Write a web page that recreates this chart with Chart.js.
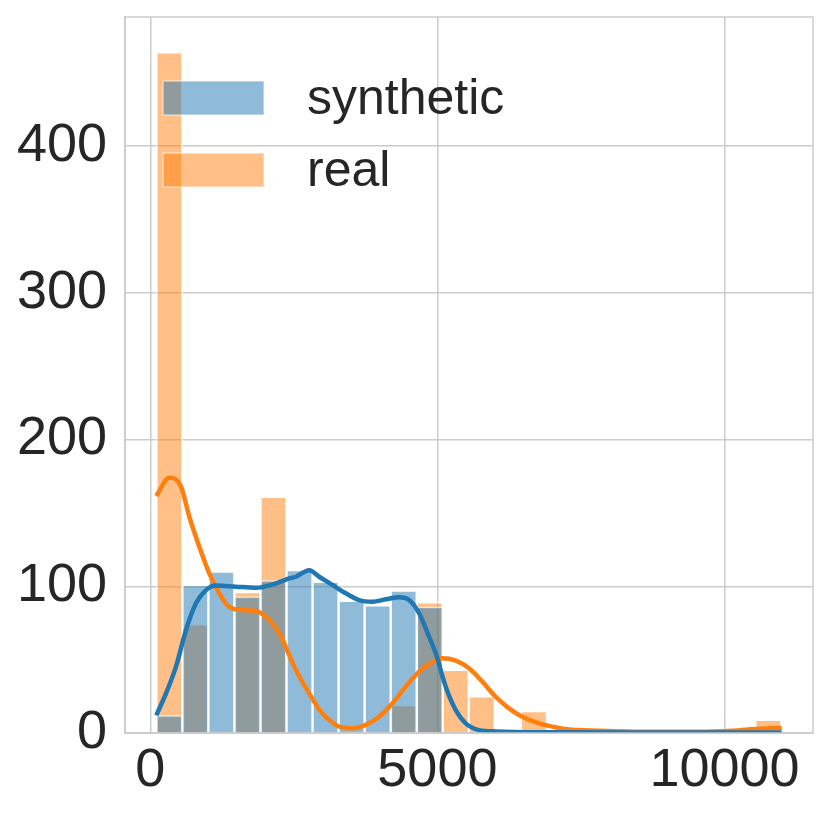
<!DOCTYPE html>
<html>
<head>
<meta charset="utf-8">
<script src="https://cdn.jsdelivr.net/npm/chart.js@4.4.1/dist/chart.umd.min.js"></script>
<style>
  html, body { margin: 0; padding: 0; background: #fff; }
  #wrap { width: 831px; height: 817px; }
</style>
</head>
<body>
<div id="wrap"><canvas id="chart" width="831" height="817"></canvas></div>
<script>
// bin centres (24 common bins, width ~454)
const binCenters = [331, 785, 1238, 1692, 2145, 2599, 3052, 3506, 3960, 4413, 4867, 5320,
                    5774, 6228, 6681, 7135, 7588, 8042, 8496, 8949, 9403, 9856, 10310, 10764];
const syntheticCounts = [12, 101, 110, 93, 104, 111, 103, 90, 87, 97, 86, 0,
                         0, 0, 0, 0, 0, 0, 0, 0, 0, 0, 0, 0];
const realCounts = [464, 74, 0, 96, 161, 0, 0, 0, 0, 19, 89, 43,
                    25, 0, 15, 0, 0, 0, 0, 0, 0, 0, 0, 9];

// kde curves
const synthKdeX = [104, 273, 447, 621, 795, 969, 1143, 1491, 1839, 2187, 2419, 2535, 2767,
                   2941, 3173, 3405, 3637, 3869, 4101, 4333, 4507, 4681, 4855, 4971, 5145,
                   5319, 5493, 5725, 6015, 7000, 8500, 10000, 10997];
const synthKdeY = [12, 27, 45.2, 70.2, 88.4, 97.4, 100.5, 99.7, 99, 102, 105.4, 106.5, 111,
                   106.5, 100.9, 95.2, 90.6, 89.5, 91.1, 92.5, 90.6, 81.6, 65.6, 54.3, 31.6,
                   15.7, 6.6, 2, 1.1, 0.5, 0.3, 0.3, 0.3];
const realKdeX = [104, 331, 534, 679, 853, 1027, 1201, 1375, 1606, 1839, 2071, 2245, 2535,
                  2767, 2941, 3056, 3289, 3521, 3753, 3985, 4217, 4449, 4681, 4855, 5087,
                  5319, 5551, 5783, 6015, 6247, 6478, 6769, 7059, 7261, 7813, 8683, 9553,
                  10133, 10597, 10997];
const realKdeY = [161.5, 174, 168, 147.4, 127, 108.8, 95.2, 86, 83.8, 83.1, 77, 68, 43,
                  27, 16, 11, 4.3, 3.2, 5.5, 11.1, 20.2, 31.6, 41.8, 47, 50.9,
                  49.3, 44.1, 35, 24.7, 16.8, 11.1, 6.6, 3.9, 2.5, 1.6, 0.9, 0.9,
                  1.6, 2.9, 3.6];

const xTicks = [0, 5000, 10000];
const yTicks = [0, 100, 200, 300, 400];
const seriesNames = ['synthetic', 'real'];

const BLUE = '#1f77b4';
const ORANGE = '#ff7f0e';
const FONT = "'Liberation Sans', Arial, sans-serif";

const toXY = (xs, ys) => xs.map((x, i) => ({ x: x, y: ys[i] }));

// spines on all four sides + legend inside the plot
const framePlugin = {
    id: 'frame',
    afterDraw(chart) {
        const { ctx, chartArea: a } = chart;
        ctx.save();
        ctx.strokeStyle = '#cccccc';
        ctx.lineWidth = 1.5;
        ctx.strokeRect(a.left, a.top, a.right - a.left, a.bottom - a.top);

        // legend
        const items = [
            { label: seriesNames[0], color: 'rgba(31,119,180,0.5)', y: 81 },
            { label: seriesNames[1], color: 'rgba(255,127,14,0.5)', y: 153 }
        ];
        items.forEach(it => {
            ctx.fillStyle = it.color;
            ctx.fillRect(163, it.y, 101, 34);
            ctx.strokeStyle = 'rgba(255,255,255,0.5)';
            ctx.lineWidth = 1.5;
            ctx.strokeRect(163, it.y, 101, 34);
            ctx.fillStyle = '#262626';
            ctx.font = '50px ' + FONT;
            ctx.textBaseline = 'alphabetic';
            ctx.textAlign = 'left';
            ctx.fillText(it.label, 307, it.y + 33);
        });
        ctx.restore();
    }
};

const kdeLine = (label, order, xs, ys, color) => ({
    type: 'line', label: label, order: order,
    data: toXY(xs, ys),
    borderColor: color, borderWidth: 4.5, pointRadius: 0,
    cubicInterpolationMode: 'monotone', fill: false
});

const histBars = (label, order, counts, color) => ({
    label: label, order: order,
    data: toXY(binCenters, counts),
    backgroundColor: color,
    borderColor: 'rgba(255,255,255,0.6)', borderWidth: 1.5,
    barPercentage: 1, categoryPercentage: 1, grouped: false
});

new Chart(document.getElementById('chart'), {
    type: 'bar',
    data: {
        datasets: [
            kdeLine(seriesNames[0] + ' kde', 0, synthKdeX, synthKdeY, BLUE),
            kdeLine(seriesNames[1] + ' kde', 1, realKdeX, realKdeY, ORANGE),
            histBars(seriesNames[0], 2, syntheticCounts, 'rgba(31,119,180,0.5)'),
            histBars(seriesNames[1], 3, realCounts, 'rgba(255,127,14,0.5)')
        ]
    },
    options: {
        responsive: false,
        animation: false,
        layout: { padding: { top: 17, right: 18, left: 0, bottom: 0 } },
        plugins: { legend: { display: false }, tooltip: { enabled: false } },
        scales: {
            x: {
                type: 'linear', min: -441, max: 11542, offset: false,
                afterFit: s => { s.height = 84; s.paddingLeft = 0; s.paddingRight = 0; },
                afterBuildTicks: s => { s.ticks = xTicks.map(v => ({ value: v })); },
                grid: { color: '#cccccc', lineWidth: 1.5, drawTicks: false, offset: false },
                border: { display: true, color: '#cccccc', width: 1.5 },
                ticks: {
                    color: '#262626', font: { family: FONT, size: 54 }, padding: 6, maxRotation: 0,
                    callback: v => String(v)
                }
            },
            y: {
                type: 'linear', min: 0, max: 488,
                afterFit: s => { s.width = 125; s.paddingTop = 0; s.paddingBottom = 0; },
                afterBuildTicks: s => { s.ticks = yTicks.map(v => ({ value: v })); },
                grid: { color: '#cccccc', lineWidth: 1.5, drawTicks: false },
                border: { display: true, color: '#cccccc', width: 1.5 },
                ticks: {
                    color: '#262626', font: { family: FONT, size: 54 }, padding: 18,
                    callback: v => String(v)
                }
            }
        }
    },
    plugins: [framePlugin]
});
</script>
</body>
</html>
